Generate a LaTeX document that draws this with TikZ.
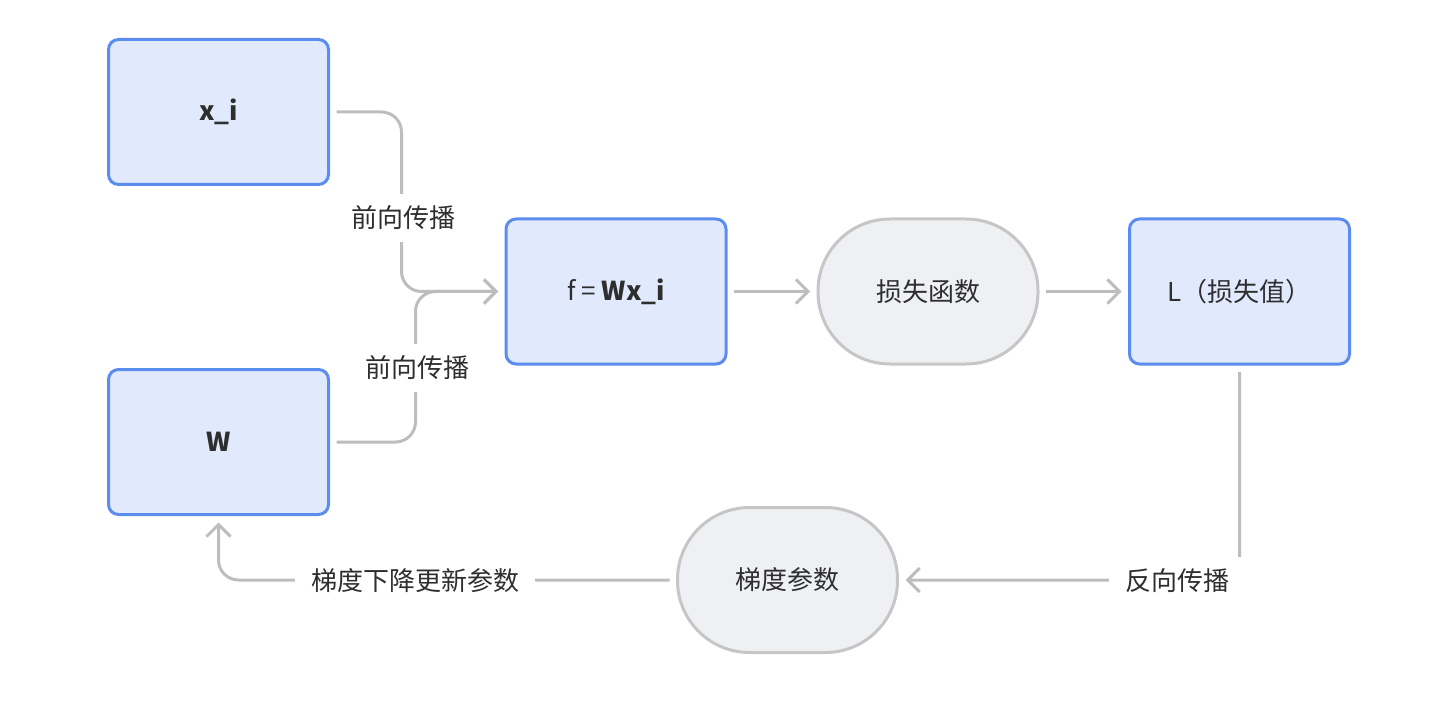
\documentclass[tikz,border=0pt]{standalone}
\usepackage{fontspec}
\setmainfont{Noto Sans CJK SC}
\usetikzlibrary{arrows.meta}
\definecolor{bluebd}{HTML}{5A8DEE}
\definecolor{bluefill}{HTML}{E1E9FC}
\definecolor{graybd}{HTML}{C6C6C6}
\definecolor{grayfill}{HTML}{EEF0F3}
\definecolor{conn}{HTML}{BDBDBD}
\definecolor{txt}{HTML}{2E2E2E}
\begin{document}
\begin{tikzpicture}[x=0.5pt,y=-0.5pt,
  font=\fontsize{13pt}{15pt}\selectfont, text=txt,
  box/.style={draw=bluebd, fill=bluefill, line width=1.5pt, rounded corners=5pt,
    minimum width=110pt, minimum height=72.5pt, outer sep=4pt, inner sep=0pt},
  stad/.style={draw=graybd, fill=grayfill, line width=1.5pt, rounded corners=36pt,
    minimum width=110pt, minimum height=72.5pt, outer sep=4pt, inner sep=0pt},
  conline/.style={draw=conn, line width=1.5pt, rounded corners=10pt},
  arr/.style={conline, -{Straight Barb[length=6pt,width=12pt,line width=1.5pt]}},
  lbl/.style={fill=white, inner xsep=8pt, inner ysep=6pt}
]
\useasboundingbox (0,0) rectangle (1440,711);
\node[box] (xi) at (218.5,112) {\bfseries x\_i};
\node[box] (w) at (218.5,442) {\bfseries W};
\node[box] (f) at (616,291.5) {f = \bfseries Wx\_i};
\node[stad] (loss) at (928,291.5) {损失函数};
\node[box] (L) at (1239.5,291.5) {L（损失值）};
\node[stad] (g) at (787.5,580) {梯度参数};

\draw[arr] (xi.east) -- ++(65,0) |- (f.west);
\draw[arr] (w.east) -- ++(79,0) |- (f.west);
\draw[arr] (f.east) -- (loss.west);
\draw[arr] (loss.east) -- (L.west);
\draw[arr] (L.south) |- (g.east);
\draw[arr] (g.west) -| (w.south);

\node[lbl] (l1) at (403,218) {前向传播};
\node[lbl] (l2) at (417,368) {前向传播};
\node[lbl] (l3) at (1177,581) {反向传播};
\node[lbl] (l4) at (415,581) {梯度下降更新参数};
\end{tikzpicture}
\end{document}
